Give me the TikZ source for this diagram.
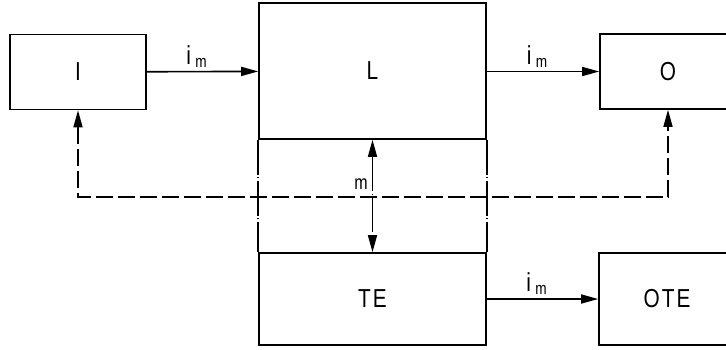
\documentclass[tikz,border=0pt]{standalone}
\usepackage{fontspec}
\newfontfamily\isofont[FakeStretch=0.8,LetterSpace=8]{Liberation Sans}
\usetikzlibrary{arrows.meta,positioning}

\newcommand{\imlabel}{\fontsize{26}{26}\selectfont i\,\raisebox{-3pt}{\fontsize{17}{17}\selectfont m}}

\begin{document}
\begin{tikzpicture}[x=1pt, y=-1pt, line width=1.6pt,
    every node/.style={font=\isofont\fontsize{26}{26}\selectfont},
    block/.style={draw, inner sep=0pt},
    flow/.style={-{Triangle[length=17pt,width=9pt]}},
    feedback/.style={dash pattern=on 17pt off 5pt},
    chain/.style={dash pattern=on 35pt off 2.5pt on 1pt off 2.5pt}]
        \useasboundingbox (0,0) rectangle (726,349);

        \node[block, minimum width=136pt, minimum height=75pt] (I) at (78,72) {I};
        \node[block, minimum width=227pt, minimum height=136pt] (L) at (372.5,71) {L};
        \node[block, minimum width=227pt, minimum height=92pt] (TE) at (372.5,299) {TE};
        \node[block, minimum width=136pt, minimum height=75pt] (O) at (668,71.5) {O};
        \node[block, minimum width=136pt, minimum height=92pt] (OTE) at (667,299) {OTE};

        % middle part
        \draw[chain] (L.south west) -- (TE.north west);
        \draw[chain] (L.south east) -- (TE.north east);
        \draw[chain, {Triangle[length=17pt,width=9pt]}-{Triangle[length=17pt,width=9pt]}] (L.south) -- (TE.north);
        \node (mlab) at (361,184) {\fontsize{20}{20}\selectfont m};

        % Flows
        \draw[flow] (I) -- node[above, xshift=-6pt] {\imlabel} (L);
        \draw[flow] (L.east |- O) -- node[above, xshift=-6pt] {\imlabel} (O);
        \draw[flow] (TE) -- node[above, xshift=-6pt] {\imlabel} (OTE);

        % feedback
        \draw[feedback, {Triangle[length=17pt,width=9pt]}-{Triangle[length=17pt,width=9pt]}] (I.south) -- (78,197) -| (O.south);
    \end{tikzpicture}
\end{document}
